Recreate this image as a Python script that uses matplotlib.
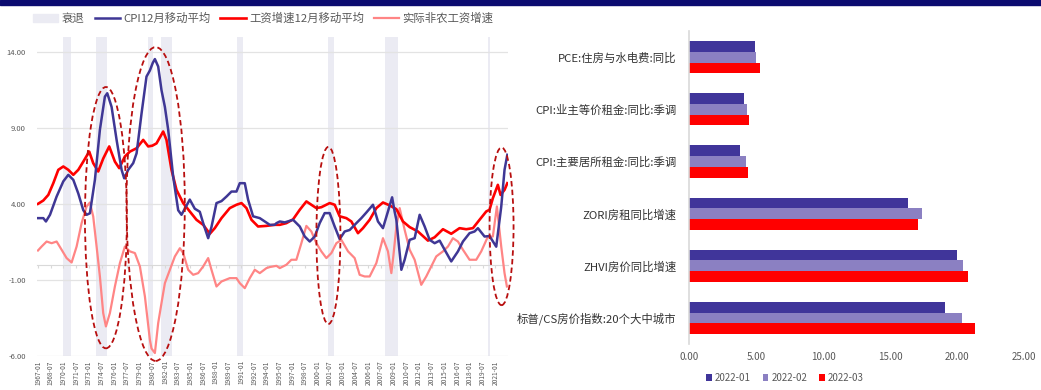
import matplotlib
matplotlib.use('Agg')
import matplotlib.pyplot as plt
from matplotlib.patches import Ellipse, Patch, Rectangle
from matplotlib.lines import Line2D

plt.rcParams['font.family'] = ['Noto Sans CJK SC', 'DejaVu Sans']

# ---------------- left chart data (decimal years, %) ----------------
cpi_x = [1967.00, 1967.63, 1967.94, 1968.42, 1969.20, 1969.99, 1970.58, 1971.17, 1971.76, 1972.35,
         1972.74, 1973.13, 1973.72, 1974.31, 1974.90, 1975.18, 1975.69, 1976.28, 1976.87, 1977.18,
         1977.65, 1978.24, 1978.64, 1979.23, 1979.81, 1980.21, 1980.55, 1980.80, 1981.19, 1981.58,
         1981.98, 1982.37, 1982.96, 1983.55, 1983.94, 1984.33, 1984.92, 1985.51, 1986.10, 1986.50,
         1987.09, 1987.48, 1988.07, 1988.66, 1989.25, 1989.84, 1990.43, 1990.82, 1991.41, 1991.80,
         1992.39, 1993.18, 1993.77, 1994.36, 1994.95, 1995.15, 1995.54, 1996.13, 1997.11, 1997.90,
         1998.49, 1999.08, 1999.67, 2000.25, 2000.84, 2001.43, 2002.02, 2002.61, 2003.20, 2003.79,
         2004.58, 2005.17, 2005.76, 2006.54, 2007.13, 2007.72, 2008.31, 2008.80, 2009.10, 2009.30,
         2009.89, 2010.28, 2010.87, 2011.46, 2012.05, 2012.64, 2013.23, 2013.82, 2014.41, 2015.00,
         2015.78, 2016.57, 2017.16, 2017.94, 2018.53, 2018.93, 2019.71, 2020.30, 2021.09, 2021.68,
         2022.07, 2022.40]
cpi_y = [3.08, 3.08, 2.86, 3.30, 4.50, 5.50, 5.93, 5.60, 4.70, 3.60,
         3.30, 3.40, 5.60, 8.90, 11.08, 11.30, 10.40, 8.23, 6.26, 5.70,
         6.26, 6.70, 7.35, 9.99, 12.40, 12.80, 13.30, 13.55, 13.06, 11.50,
         10.40, 8.90, 5.80, 3.60, 3.30, 3.70, 4.30, 3.70, 3.50, 2.75,
         1.76, 2.50, 4.07, 4.20, 4.50, 4.83, 4.83, 5.38, 5.38, 4.30,
         3.20, 3.08, 2.86, 2.64, 2.64, 2.75, 2.86, 2.80, 2.97, 2.53,
         1.87, 1.54, 1.87, 2.75, 3.41, 3.41, 2.53, 1.70, 2.20, 2.30,
         2.75, 3.08, 3.45, 3.96, 2.86, 2.42, 3.52, 4.45, 3.50, 2.97,
         -0.32, 0.34, 1.65, 1.76, 3.30, 2.53, 1.65, 1.43, 1.60, 1.00,
         0.23, 0.89, 1.54, 2.09, 2.20, 2.42, 1.87, 1.90, 1.20, 3.83,
         6.26, 7.25]

wage_x = [1967.00, 1967.63, 1968.22, 1968.81, 1969.40, 1969.99, 1970.58, 1971.17, 1971.76, 1972.35,
          1973.05, 1973.52, 1974.11, 1974.70, 1975.41, 1976.08, 1976.59, 1977.26, 1977.85, 1978.64,
          1979.42, 1980.01, 1980.50, 1980.99, 1981.78, 1982.17, 1982.76, 1983.35, 1984.14, 1984.92,
          1985.71, 1986.50, 1987.28, 1987.87, 1988.66, 1989.64, 1990.43, 1991.02, 1991.61, 1992.20,
          1992.98, 1993.97, 1994.95, 1995.54, 1996.32, 1997.11, 1997.90, 1998.68, 1999.27, 1999.86,
          2000.45, 2001.43, 2002.02, 2002.61, 2003.40, 2003.99, 2004.77, 2005.36, 2006.15, 2006.94,
          2007.72, 2008.51, 2009.30, 2010.08, 2010.87, 2011.85, 2013.03, 2013.82, 2014.80, 2015.78,
          2016.76, 2017.55, 2018.34, 2019.12, 2019.91, 2020.30, 2020.69, 2021.28, 2021.60, 2022.07,
          2022.40]
wage_y = [4.02, 4.24, 4.61, 5.38, 6.26, 6.48, 6.26, 5.93, 6.26, 6.80,
          7.46, 6.70, 6.15, 7.00, 7.80, 6.80, 6.37, 7.14, 7.46, 7.68,
          8.23, 7.80, 7.85, 8.00, 8.78, 8.23, 6.26, 4.94, 4.07, 3.52,
          2.97, 2.64, 2.05, 2.42, 3.08, 3.74, 3.96, 4.07, 3.74, 2.97,
          2.53, 2.57, 2.64, 2.64, 2.75, 3.00, 3.63, 4.18, 3.96, 3.74,
          3.80, 4.07, 3.96, 3.20, 3.08, 2.86, 2.09, 2.42, 2.97, 3.74,
          4.11, 3.92, 3.67, 2.86, 2.49, 2.20, 1.60, 1.82, 2.35, 2.05,
          2.42, 2.35, 2.42, 2.97, 3.52, 3.63, 4.39, 5.27, 4.61, 4.94,
          5.38]

real_x = [1967.00, 1967.43, 1968.02, 1968.61, 1969.20, 1969.79, 1970.38, 1970.97, 1971.56, 1972.15,
          1972.74, 1973.13, 1973.52, 1973.92, 1974.31, 1974.70, 1975.02, 1975.49, 1976.08, 1976.67,
          1977.26, 1977.85, 1978.44, 1979.03, 1979.62, 1980.21, 1980.40, 1980.80, 1981.19, 1981.58,
          1981.98, 1982.57, 1983.16, 1983.75, 1984.14, 1984.73, 1985.32, 1985.91, 1986.50, 1987.09,
          1987.48, 1988.07, 1988.66, 1989.64, 1990.43, 1990.82, 1991.41, 1992.00, 1992.59, 1993.18,
          1993.97, 1994.36, 1995.15, 1995.54, 1996.32, 1996.91, 1997.50, 1998.09, 1998.68, 1999.27,
          1999.86, 2000.45, 2001.04, 2001.63, 2002.22, 2002.81, 2003.60, 2004.38, 2004.97, 2005.56,
          2006.15, 2006.94, 2007.72, 2008.31, 2008.71, 2008.95, 2009.30, 2009.69, 2010.28, 2010.87,
          2011.46, 2012.24, 2012.83, 2013.42, 2014.01, 2014.80, 2015.39, 2015.98, 2016.57, 2017.16,
          2017.94, 2018.73, 2019.32, 2020.11, 2020.69, 2021.17, 2021.68, 2022.07, 2022.35]
real_y = [0.95, 1.21, 1.54, 1.43, 1.54, 1.00, 0.45, 0.16, 1.21, 2.75,
          3.85, 4.11, 3.19, 1.21, -0.76, -3.17, -4.05, -3.17, -1.42, 0.12,
          1.21, 0.89, 0.78, -0.10, -2.07, -4.93, -5.50, -5.80, -3.83, -2.51,
          -1.20, -0.32, 0.56, 1.10, 0.78, -0.32, -0.65, -0.54, -0.10, 0.45,
          -0.32, -1.42, -1.09, -0.87, -0.87, -1.20, -1.53, -0.87, -0.32, -0.54,
          -0.21, -0.14, -0.06, -0.21, 0.01, 0.34, 0.34, 1.43, 2.57, 2.20,
          1.43, 0.89, 0.45, 0.78, 1.43, 1.65, 0.89, 0.45, -0.65, -0.76,
          -0.76, 0.12, 1.76, 0.89, -0.54, 0.60, 2.50, 3.74, 2.31, 1.00,
          0.34, -1.31, -0.76, -0.10, 0.56, 0.89, 1.21, 1.76, 1.54, 1.00,
          0.34, 0.34, 0.89, 1.87, 1.87, 3.85, 1.21, -0.54, -1.42]

recessions = [(1969.92, 1970.85), (1973.85, 1975.20), (1980.00, 1980.55), (1981.50, 1982.85),
              (1990.55, 1991.20), (2001.20, 2001.90), (2007.95, 2009.50), (2020.10, 2020.30)]

# dashed ellipse highlights: (center year, center value, width years, height value)
highlights = [(1975.02, 3.11, 4.95, 17.2), (1980.89, 4.01, 6.88, 20.66),
              (2001.28, 1.94, 2.83, 11.66), (2021.72, 2.54, 2.83, 10.38)]

tick_years = [1967 + 1.5 * i for i in range(37)]
tick_labels = ['%d-%s' % (int(t), '01' if t == int(t) else '07') for t in tick_years]

# ---------------- right chart data ----------------
categories = ['PCE:住房与水电费:同比', 'CPI:业主等价租金:同比:季调', 'CPI:主要居所租金:同比:季调',
              'ZORI房租同比增速', 'ZHVI房价同比增速', '标普/CS房价指数:20个大中城市']
months = ['2022-01', '2022-02', '2022-03']
jan = [4.89, 4.12, 3.82, 16.34, 19.99, 19.07]
feb = [4.96, 4.34, 4.22, 17.36, 20.46, 20.34]
mar = [5.28, 4.49, 4.42, 17.11, 20.78, 21.30]

navy = '#3F3795'
red = '#FF0000'
pink = '#FF8585'
grey_txt = '#595959'

fig = plt.figure(figsize=(10.41, 3.90), dpi=100)
fig.patches.append(Rectangle((0, 0.987), 1, 0.013, transform=fig.transFigure,
                             color='#0B0B70', zorder=5))

# ---------------- left ----------------
ax = fig.add_axes([0.0355, 0.087, 0.4525, 0.818])
for s, e in recessions:
    ax.axvspan(s, e, color='#EBEBF3', lw=0, zorder=0.5)
ax.plot(real_x, real_y, color=pink, lw=1.6, zorder=3)
ax.plot(wage_x, wage_y, color=red, lw=1.9, zorder=4)
ax.plot(cpi_x, cpi_y, color=navy, lw=1.8, zorder=5)
for cx, cy, w, h in highlights:
    ax.add_patch(Ellipse((cx, cy), w, h, fill=False, ls=(0, (3, 1.8)), ec='#B80F0F',
                         lw=1.3, clip_on=False, zorder=6))

ax.set_xlim(1966.88, 2022.48)
ax.set_ylim(-6, 15)
ax.set_yticks([-6, -1, 4, 9, 14])
ax.set_yticklabels(['-6.00', '-1.00', '4.00', '9.00', '14.00'])
ax.yaxis.grid(True, color='#E3E3E3', lw=0.9, zorder=0.2)
ax.tick_params(axis='y', length=0, labelsize=5.5, labelcolor=grey_txt, pad=8)
for sp in ['top', 'right', 'left']:
    ax.spines[sp].set_visible(False)
ax.spines['bottom'].set_position(('data', 0))
ax.spines['bottom'].set_color('#D9D9D9')
ax.set_xticks(tick_years)
ax.tick_params(axis='x', length=2.5, color='#D9D9D9', labelbottom=False)

sec = ax.secondary_xaxis('bottom')
sec.set_xticks(tick_years)
sec.set_xticklabels(tick_labels, rotation=90)
sec.tick_params(length=0, labelsize=4.8, labelcolor=grey_txt, pad=3)
sec.spines['bottom'].set_visible(False)

handles = [Patch(color='#EBEBF3'),
           Line2D([], [], color=navy, lw=1.8),
           Line2D([], [], color=red, lw=1.9),
           Line2D([], [], color=pink, lw=1.6)]
labels = ['衰退', 'CPI12月移动平均', '工资增速12月移动平均', '实际非农工资增速']
fig.legend(handles, labels, loc='center', bbox_to_anchor=(0.253, 0.953), ncol=4, frameon=False,
           fontsize=8.2, labelcolor=grey_txt, handlelength=2.2, handletextpad=0.3,
           columnspacing=0.9)

# ---------------- right ----------------
bx = fig.add_axes([0.662, 0.118, 0.3218, 0.802])
ypos = list(range(len(categories)))
h = 0.205
bx.barh([y - h for y in ypos], jan, height=h, color='#40359A', label=months[0])
bx.barh(ypos, feb, height=h, color='#8B80C2', label=months[1])
bx.barh([y + h for y in ypos], mar, height=h, color=red, label=months[2])
bx.set_ylim(len(categories) - 0.5, -0.5)
bx.set_xlim(0, 25)
bx.set_yticks(ypos)
bx.set_yticklabels(categories)
bx.set_xticks([0, 5, 10, 15, 20, 25])
bx.set_xticklabels(['0.00', '5.00', '10.00', '15.00', '20.00', '25.00'])
bx.tick_params(axis='y', length=0, labelsize=8.2, labelcolor='#333333', pad=9)
bx.tick_params(axis='x', length=0, labelsize=7, labelcolor=grey_txt, pad=6)
for sp in ['top', 'right', 'bottom']:
    bx.spines[sp].set_visible(False)
bx.spines['left'].set_color('#D9D9D9')
bx.spines['left'].set_linewidth(1.2)
fig.legend(*bx.get_legend_handles_labels(), loc='center', bbox_to_anchor=(0.754, 0.031),
           ncol=3, frameon=False, fontsize=7, labelcolor=grey_txt, handlelength=0.6,
           handleheight=0.6, handletextpad=0.3, columnspacing=1.2)

fig.savefig('out.png', dpi=100)
